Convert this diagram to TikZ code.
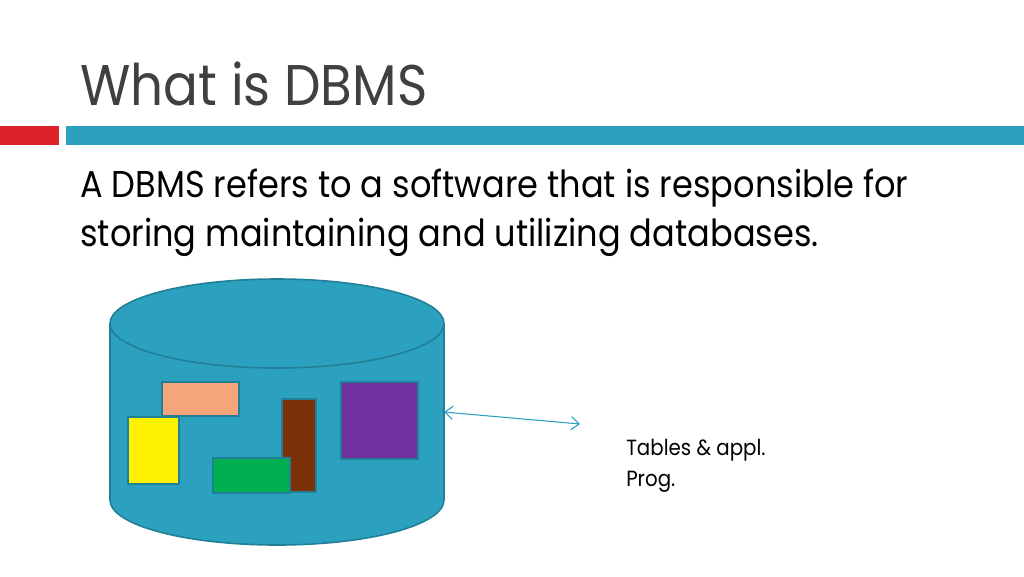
\documentclass[tikz,border=0pt]{standalone}
\usepackage{fontspec}
\setmainfont[FakeStretch=0.9]{Poppins}
\usetikzlibrary{arrows.meta}
\definecolor{accblue}{HTML}{2CA1BF}
\definecolor{cylline}{HTML}{217F98}
\definecolor{accred}{HTML}{DD2229}
\definecolor{titlegray}{HTML}{404040}
\definecolor{salmon}{HTML}{F4A57B}
\definecolor{brownbox}{HTML}{7B3209}
\definecolor{greenbox}{HTML}{00B050}
\definecolor{purplebox}{HTML}{7030A0}
\tikzset{
  box/.style={draw=cylline, line width=1.2pt},
  body/.style={anchor=base west, inner sep=0pt, text=black},
}
\begin{document}
\begin{tikzpicture}[x=0.75pt,y=-0.75pt]
\useasboundingbox (0,0) rectangle (1024,576);
\fill[white] (0,0) rectangle (1024,576);
% title
\node[body, text=titlegray, font=\fontsize{43}{50}\selectfont] (title) at (80,105) {What is DBMS};
% bars
\fill[accred] (0,126) rectangle (59,145);
\fill[accblue] (66,126) rectangle (1024,145);
% body text
\node[body, font=\fontsize{28}{34}\selectfont] (l1) at (80,197) {A DBMS refers to a software that is responsible for};
\node[body, font=\fontsize{28}{34}\selectfont] (l2) at (80,246) {storing maintaining and utilizing databases.};
% cylinder
\filldraw[fill=accblue, draw=cylline, line width=1.2pt]
  (110,323.5) -- (110,500) arc[start angle=180, end angle=0, x radius=167, y radius=45]
  -- (444,323.5) arc[start angle=0, end angle=-180, x radius=167, y radius=44.5] -- cycle;
\draw[cylline, line width=1.2pt] (110,323.5) arc[start angle=180, end angle=0, x radius=167, y radius=44.5];
\coordinate (cylright) at (444,412);
% boxes
\filldraw[box, fill=salmon] (162,382) rectangle (239,416);
\filldraw[box, fill=yellow] (128,417) rectangle (179,484);
\filldraw[box, fill=brownbox] (282,399) rectangle (316,492);
\filldraw[box, fill=greenbox] (213,458) rectangle (290,493);
\filldraw[box, fill=purplebox] (341,382) rectangle (418,459);
% arrow
\coordinate (arrend) at (580,424);
\draw[accblue, line width=0.8pt, {Straight Barb[length=6pt,width=10pt]}-{Straight Barb[length=6pt,width=10pt]}] (cylright) -- (arrend);
% label
\node[body, font=\fontsize{16.5}{22}\selectfont] (lab1) at (626,455) {Tables \& appl.};
\node[body, font=\fontsize{16.5}{22}\selectfont] (lab2) at (626,486) {Prog.};
\end{tikzpicture}
\end{document}
